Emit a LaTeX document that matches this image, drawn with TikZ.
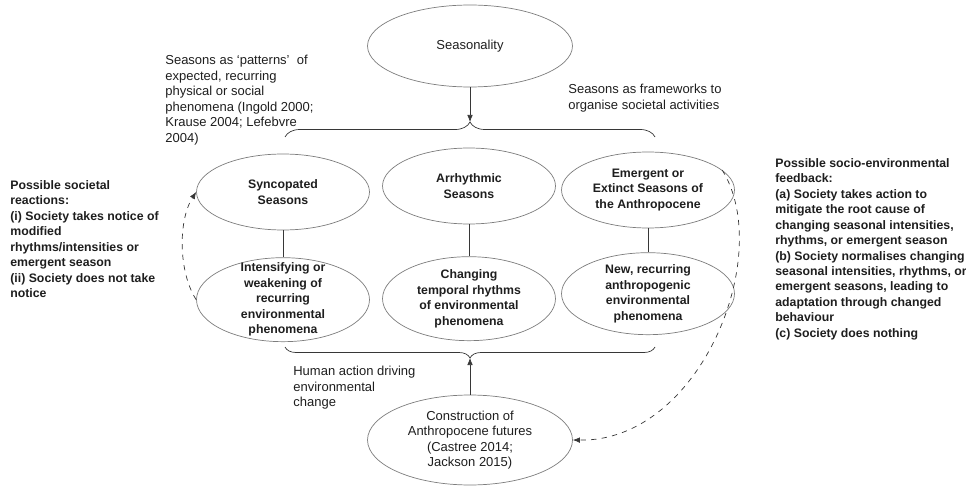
\documentclass[tikz,border=0pt]{standalone}
\usepackage{fontspec}
\setmainfont{Liberation Sans}
\usetikzlibrary{
  shapes.geometric,
  arrows.meta,
  positioning,
  decorations.pathreplacing
}
\definecolor{ovalgray}{RGB}{125,125,125}
\definecolor{linegray}{RGB}{55,55,55}
\definecolor{inkgray}{RGB}{30,30,30}

\begin{document}
\begin{tikzpicture}[
  x=0.02cm, y=-0.02cm,
  oval/.style={
    ellipse, draw=ovalgray, thin, inner sep=-15pt, align=center, text=inkgray,
    minimum width=3.46cm, font=\fontsize{7.4}{8.85}\selectfont
  },
  boldoval/.style={oval, font=\fontsize{7}{8.8}\selectfont\bfseries},
  note/.style={inner sep=0pt, anchor=north west, align=left, text=inkgray,
    font=\fontsize{7.4}{8.85}\selectfont},
  boldnote/.style={note, font=\fontsize{7}{8.8}\selectfont\bfseries},
  arr/.style={-{Latex[length=4pt,width=3.2pt]}, linegray, thin},
  dasharr/.style={arr, dashed},
  brace/.style={decorate, decoration={brace, amplitude=#1}, draw=linegray, thin}
]
  \useasboundingbox (0,0) rectangle (966,486);

  \node[oval, minimum width=4.1cm, minimum height=1.64cm] (seas) at (470,46) {Seasonality};

  \node[boldoval, minimum height=1.52cm] (sync)  at (283,192) {Syncopated\\Seasons};
  \node[boldoval, minimum height=1.52cm] (arrh)  at (469,186) {Arrhythmic\\Seasons};
  \node[boldoval, minimum height=1.52cm] (emerg) at (648,190) {Emergent or\\Extinct Seasons of\\the Anthropocene};

  \node[boldoval, minimum height=1.68cm, below=0.54cm of sync]  (intens) {Intensifying or\\weakening of\\recurring\\environmental\\phenomena};
  \node[boldoval, minimum height=1.68cm, below=0.64cm of arrh]  (chang)  {Changing\\temporal rhythms\\of environmental\\phenomena};
  \node[boldoval, minimum height=1.64cm, below=0.48cm of emerg] (newrec) {New, recurring\\anthropogenic\\environmental\\phenomena};

  \node[oval, minimum width=4.1cm, minimum height=1.8cm] (constr) at (470,440) {Construction of\\Anthropocene futures\\(Castree 2014;\\Jackson 2015)};

  \node[note] (patterns) at (165,55) {Seasons as ‘patterns’\ \ of\\expected, recurring\\physical or social\\phenomena (Ingold 2000;\\Krause 2004; Lefebvre\\2004)};
  \node[note] (frames) at (568,84) {Seasons as frameworks to\\organise societal activities};
  \node[note] (human) at (293,366) {Human action driving\\environmental\\change};

  \node[boldnote] (reactions) at (10,180) {Possible societal\\reactions:\\(i) Society takes notice of\\modified\\rhythms/intensities or\\emergent season\\(ii) Society does not take\\notice};
  \node[boldnote] (feedback) at (775,158) {Possible socio-environmental\\feedback:\\(a) Society takes action to\\mitigate the root cause of\\changing seasonal intensities,\\rhythms, or emergent season\\(b) Society normalises changing\\seasonal intensities, rhythms, or\\emergent seasons, leading to\\adaptation through changed\\behaviour\\(c) Society does nothing};

  \coordinate (topL) at (285,137);
  \coordinate (topR) at (655,137);
  \coordinate (toptip) at (470,122);
  \coordinate (botL) at (285,347);
  \coordinate (botR) at (655,347);
  \coordinate (bottip) at (470,358);

  \draw[brace=0.3cm] (topL) -- (topR);
  \draw[brace=0.22cm] (botR) -- (botL);

  \draw[arr] (seas) -- (toptip);
  \draw[arr] (constr) -- (bottip);

  \draw[linegray, thin] (sync) -- (intens);
  \draw[linegray, thin] (arrh) -- (chang);
  \draw[linegray, thin] (emerg) -- (newrec);

  \draw[dasharr] (intens.west) .. controls +(-18,-28) and +(-18,28) .. (sync.west);
  \draw[dasharr] (emerg.15) .. controls (775,255) and (700,442) .. (constr.east);
\end{tikzpicture}
\end{document}
